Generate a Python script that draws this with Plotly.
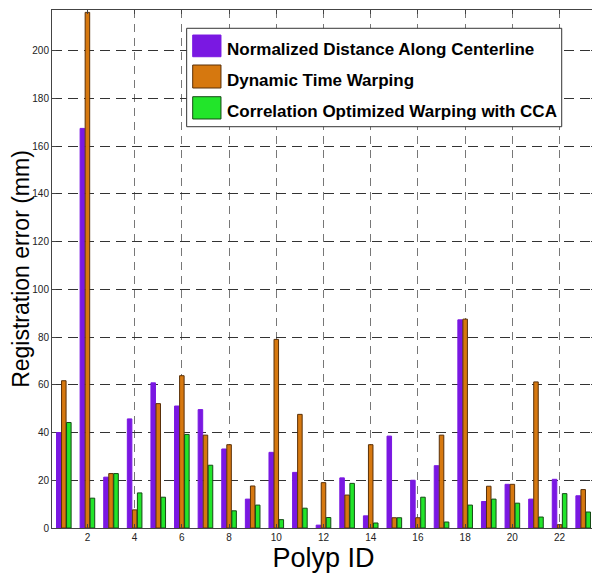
import plotly.graph_objects as go

polyp_ids = list(range(1, 24))
series_names = [
    "Normalized Distance Along Centerline",
    "Dynamic Time Warping",
    "Correlation Optimized Warping with CCA",
]
ndc = [40.0, 167.4, 21.3, 45.7, 60.8, 51.1, 49.6, 33.1, 12.1, 31.7, 23.3, 1.2,
       21.0, 5.1, 38.5, 20.0, 26.1, 87.2, 11.1, 18.3, 12.1, 20.4, 13.5]
dtw = [61.7, 216.0, 22.8, 7.6, 52.1, 63.8, 38.9, 34.9, 17.6, 79.0, 47.6, 19.0,
       13.8, 34.9, 4.3, 4.3, 38.9, 87.5, 17.5, 18.3, 61.2, 1.4, 16.1]
cow = [44.2, 12.5, 22.8, 14.7, 12.9, 39.2, 26.3, 7.2, 9.6, 3.5, 8.3, 4.4,
       18.7, 2.1, 4.3, 12.9, 2.5, 9.6, 12.1, 10.4, 4.6, 14.4, 6.7]
x_ticks = list(range(2, 23, 2))
y_ticks = list(range(0, 201, 20))

fills = ["#7A18E2", "#D6780F", "#22E52A"]
edges = ["#7A18E2", "#5A3008", "#154A15"]

fig = go.Figure()
for name, vals, fc, ec in zip(series_names, [ndc, dtw, cow], fills, edges):
    fig.add_trace(go.Bar(x=polyp_ids, y=vals, name=name, marker=dict(color=fc, line=dict(color=ec, width=1)),
                         showlegend=False))

# custom MATLAB-like legend
fig.add_shape(type="rect", xref="paper", yref="paper", x0=0.248, x1=0.9387, y0=0.7747, y1=0.9647,
              fillcolor="white", line=dict(color="#333", width=1), layer="above")
row_y = [(0.9098, 0.9517, 0.9241), (0.8494, 0.8938, 0.8635), (0.7896, 0.8326, 0.8037)]
for name, fc, ec, (y0, y1, yc) in zip(series_names, fills, edges, row_y):
    fig.add_shape(type="rect", xref="paper", yref="paper", x0=0.2591, x1=0.3112, y0=y0, y1=y1,
                  fillcolor=fc, line=dict(color=ec, width=1), layer="above")
    fig.add_annotation(xref="paper", yref="paper", x=0.3186, y=yc, text="<b>%s</b>" % name, showarrow=False,
                       xanchor="left", yanchor="middle", font=dict(family="Liberation Sans, Arial", size=17, color="black"))

# page body has an 8px margin; size the figure so the plot area lands where the reference has it
fig.update_layout(
    width=592, height=569,
    margin=dict(l=44, r=5, t=2, b=49),
    paper_bgcolor="white", plot_bgcolor="white",
    barmode="group", bargap=0.36, bargroupgap=0.1,
    font=dict(family="Liberation Sans, Arial", color="#222"),
)
fig.update_xaxes(
    range=[0.5, 23.5], tickmode="array", tickvals=x_ticks, ticktext=[str(v) for v in x_ticks],
    showgrid=True, gridcolor="#777", griddash="8px,6px", gridwidth=1,
    showline=True, linecolor="#444", linewidth=1, mirror="ticks",
    ticks="inside", ticklen=4, tickcolor="#444", tickfont=dict(size=10, color="#222"),
    title=dict(text="Polyp ID", font=dict(size=27, color="black"), standoff=3),
    zeroline=False, automargin=False,
)
fig.update_yaxes(
    range=[0, 217], tickmode="array", tickvals=y_ticks, ticktext=[str(v) for v in y_ticks],
    showgrid=True, gridcolor="#333", griddash="10px,6px", gridwidth=1,
    showline=True, linecolor="#444", linewidth=1, mirror="ticks",
    ticks="inside", ticklen=4, tickcolor="#444", tickfont=dict(size=10, color="#222"),
    title=dict(text="Registration error (mm)", font=dict(size=23, color="black"), standoff=4),
    zeroline=False, automargin=False,
)
fig.write_html("out.html")
